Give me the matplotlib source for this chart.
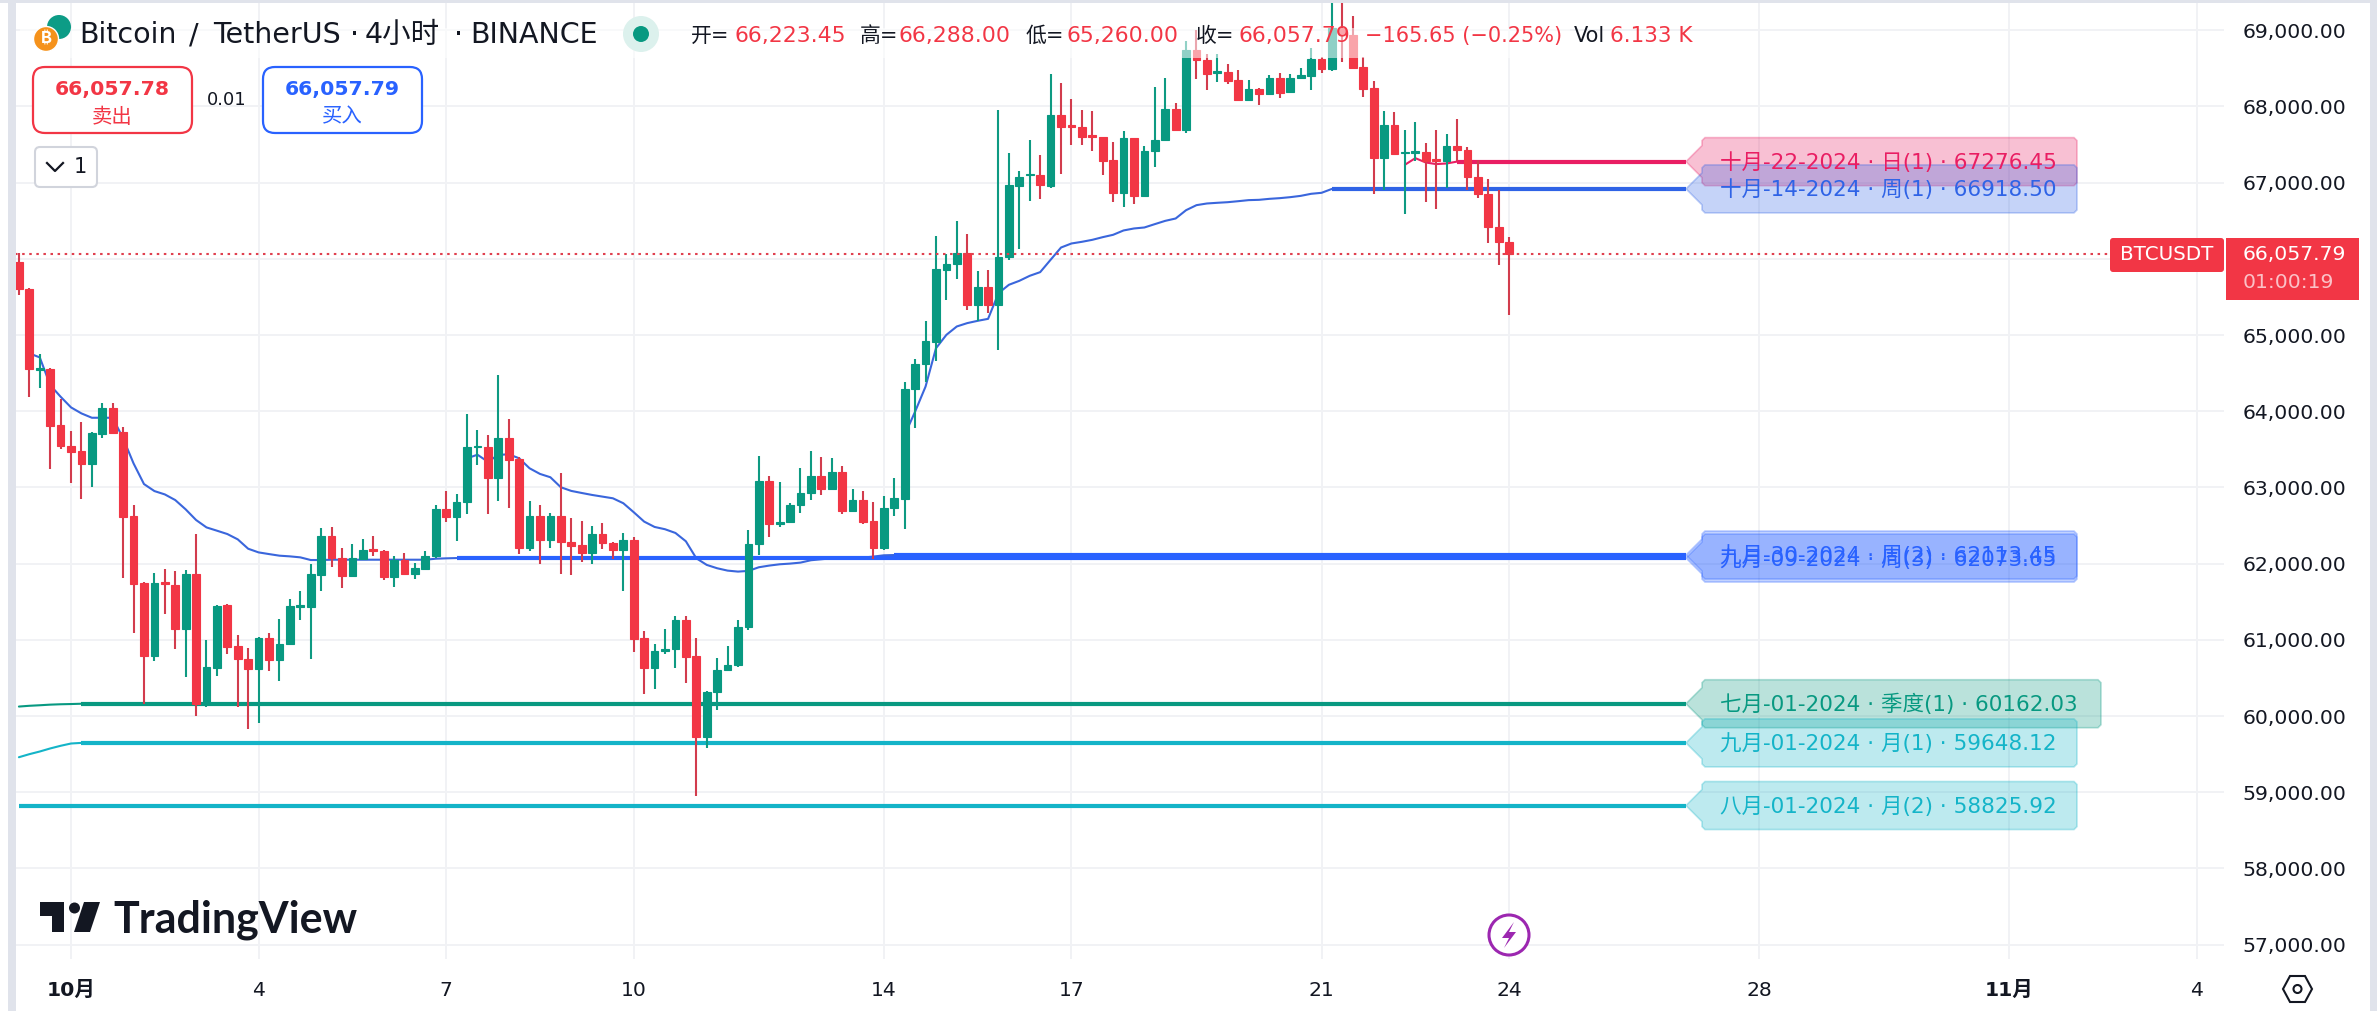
import numpy as np
import matplotlib
matplotlib.use('Agg')
import matplotlib.pyplot as plt
from matplotlib.patches import Circle, FancyBboxPatch, Polygon, Rectangle

plt.rcParams['font.family'] = ['DejaVu Sans', 'Noto Sans CJK SC']

# 4h candles, bar 0 = Oct 1 00:00
first_bar = -5
opens = [65960, 65600, 64540, 64555, 63815, 63550, 63480, 63305, 63700, 64040,
         63725, 62620, 61745, 60790, 61755, 61715, 61145, 61865, 60165, 60635,
         61455, 60915, 60755, 60620, 61020, 60740, 60940, 61435, 61435, 61855,
         62360, 62080, 61840, 62065, 62190, 62165, 61825, 62050, 61865, 61935,
         62095, 62715, 62615, 62805, 63525, 63525, 63130, 63645, 63370, 62205,
         62620, 62305, 62620, 62285, 62240, 62145, 62385, 62275, 62185, 62305,
         61020, 60625, 60850, 60885, 61260, 60785, 59720, 60310, 60600, 60665,
         61165, 62255, 63080, 62520, 62550, 62765, 62925, 63145, 62985, 63200,
         62695, 62830, 62555, 62210, 62730, 62855, 64290, 64615, 64915, 65860,
         65930, 66075, 65390, 65630, 65390, 66020, 66960, 67095, 67100, 66955,
         67885, 67755, 67730, 67625, 67595, 67295, 66860, 67585, 66830, 67410,
         67555, 67965, 67695, 68745, 68610, 68445, 68455, 68350, 68080, 68230,
         68170, 68370, 68185, 68370, 68405, 68625, 68495, 69030, 68940, 68515,
         68240, 67330, 67755, 67385, 67395, 67400, 67310, 67280, 67480, 67425,
         67070, 66850, 66415, 66223.45]
highs = [66080, 65620, 64750, 64565, 64155, 63740, 63855, 63730, 64115, 64105,
         63800, 62765, 61760, 61875, 61925, 61900, 61915, 62385, 60995, 61455,
         61465, 61060, 60890, 61040, 61085, 61270, 61530, 61635, 61990, 62465,
         62475, 62200, 62255, 62320, 62360, 62180, 62095, 62135, 62005, 62160,
         62765, 62960, 62910, 63960, 63750, 63695, 64470, 63895, 63395, 62820,
         62765, 62660, 63185, 62595, 62555, 62490, 62535, 62285, 62400, 62345,
         61115, 60945, 61140, 61310, 61310, 61020, 60325, 60760, 60915, 61255,
         62440, 63410, 63145, 63070, 62790, 63250, 63475, 63395, 63385, 63280,
         62975, 62950, 62805, 62885, 63120, 64380, 64680, 65185, 66300, 66060,
         66495, 66325, 65840, 65850, 67950, 67385, 67150, 67560, 67360, 68425,
         68305, 68095, 67950, 67940, 67600, 67530, 67675, 67590, 67480, 68255,
         68370, 68045, 68865, 69005, 68685, 68685, 68555, 68475, 68345, 68240,
         68410, 68440, 68425, 68505, 68765, 68650, 69400, 69380, 69190, 68655,
         68335, 67940, 67925, 67690, 67795, 67520, 67690, 67635, 67835, 67465,
         67295, 67045, 66900, 66288]
lows = [65525, 64190, 64310, 63245, 63510, 63060, 62850, 63010, 63655, 63700,
        61815, 61095, 60165, 60725, 61345, 60885, 60515, 60005, 60125, 60530,
        60820, 60125, 59825, 59915, 60595, 60465, 60935, 61265, 60755, 61645,
        61960, 61685, 61830, 62065, 62105, 61785, 61700, 61865, 61805, 61920,
        62070, 62550, 62300, 62655, 63300, 62655, 62825, 62735, 62130, 62160,
        62000, 62200, 61870, 61850, 62025, 62000, 62195, 62055, 61635, 60835,
        60295, 60360, 60820, 60635, 60440, 58945, 59585, 60085, 60585, 60650,
        61135, 62120, 62355, 62485, 62550, 62670, 62830, 62905, 62985, 62655,
        62695, 62525, 62055, 62185, 62620, 62460, 63780, 64380, 64665, 65465,
        65730, 65325, 65190, 65285, 64800, 65990, 66135, 66755, 66780, 66930,
        67120, 67490, 67500, 67410, 67095, 66740, 66675, 66725, 66830, 67200,
        67555, 67685, 67650, 68365, 68210, 68315, 68300, 68080, 68080, 68015,
        68170, 68105, 68185, 68370, 68210, 68435, 68470, 68590, 68500, 68130,
        66845, 66905, 67370, 66585, 67285, 66740, 66650, 66925, 67285, 66900,
        66805, 66205, 65925, 65260]
closes = [65605, 64550, 64565, 63810, 63545, 63470, 63305, 63710, 64040, 63710,
          62615, 61735, 60790, 61740, 61735, 61145, 61865, 60165, 60640, 61450,
          60910, 60755, 60620, 61020, 60740, 60940, 61440, 61455, 61860, 62360,
          62080, 61840, 62070, 62175, 62170, 61830, 62050, 61870, 61940, 62095,
          62715, 62615, 62805, 63525, 63545, 63130, 63645, 63365, 62205, 62620,
          62305, 62620, 62280, 62235, 62145, 62385, 62265, 62185, 62305, 61015,
          60625, 60850, 60885, 61260, 60780, 59720, 60315, 60600, 60665, 61165,
          62255, 63080, 62525, 62550, 62765, 62925, 63145, 62985, 63200, 62695,
          62830, 62550, 62210, 62730, 62860, 64290, 64615, 64925, 65870, 65935,
          66075, 65390, 65630, 65390, 66025, 66965, 67070, 67110, 66965, 67885,
          67735, 67735, 67605, 67605, 67290, 66860, 67585, 66830, 67415, 67560,
          67965, 67695, 68745, 68605, 68420, 68465, 68335, 68080, 68230, 68165,
          68370, 68180, 68370, 68410, 68625, 68495, 69030, 68940, 68505, 68235,
          67330, 67755, 67370, 67400, 67415, 67290, 67290, 67480, 67425, 67070,
          66845, 66415, 66220, 66057.79]

# anchored vwap lines, thin part until the pivot level is fixed
sep09_start, sep09_vwap = -4, [64760, 64707, 64344, 64191, 64051, 63972, 63915, 63915, 63915, 63644,
                               63316, 63045, 62953, 62909, 62835, 62713, 62573, 62476, 62433, 62389,
                               62319, 62196, 62148, 62126, 62105, 62096, 62083, 62048, 62048, 62052,
                               62052, 62052, 62052, 62052, 62052, 62052, 62052, 62052, 62052, 62065,
                               62070, 62073.65]
sep30_start, sep30_vwap = 38, [63382, 63430, 63338, 63427, 63436, 63383, 63252, 63178, 63134, 63003,
                               62955, 62928, 62902, 62880, 62858, 62793, 62675, 62552, 62482, 62452,
                               62403, 62294, 62071, 61984, 61940, 61909, 61896, 61905, 61953, 61975,
                               61992, 62001, 62014, 62045, 62058, 62071, 62075, 62075, 62080, 62093,
                               62110, 62113.45]
oct14_start, oct14_vwap = 80, [63690, 63996, 64324, 64827, 65003, 65113, 65157, 65187, 65213, 65550,
                               65660, 65712, 65778, 65826, 65988, 66149, 66202, 66224, 66250, 66285,
                               66316, 66373, 66399, 66412, 66456, 66499, 66530, 66639, 66705, 66727,
                               66736, 66744, 66757, 66771, 66775, 66788, 66797, 66810, 66827, 66854,
                               66867, 66918.5]
oct22_start, oct22_vwap = 128, [67235, 67322, 67265, 67244, 67252, 67276.45]
jul01_start, jul01_vwap = -5, [60125, 60135, 60142, 60150, 60155, 60158, 60162.03]
sep01_start, sep01_vwap = -5, [59460, 59500, 59535, 59575, 59610, 59640, 59648.12]
aug01_start, aug01_vwap = -5, [58825.92]

level_text = ['十月-22-2024 · 日(1) · 67276.45', '十月-14-2024 · 周(1) · 66918.50',
              '九月-30-2024 · 周(2) · 62113.45', '九月-09-2024 · 周(3) · 62073.65',
              '七月-01-2024 · 季度(1) · 60162.03', '九月-01-2024 · 月(1) · 59648.12',
              '八月-01-2024 · 月(2) · 58825.92']

price_ticks = list(range(57000, 70000, 1000))
date_ticks = [0, 18, 36, 54, 78, 96, 120, 138, 162, 186, 204]
date_labels = ['10月', '4', '7', '10', '14', '17', '21', '24', '28', '11月', '4']

RED = '#f23645'
GREEN = '#089981'
BLUE = '#2962ff'
CYAN = '#14b4c8'
PINK = '#e91e63'
GRID = '#f1f2f5'
STRIP = '#e0e3eb'
INK = '#131722'

W, H = 2377, 1011
fig = plt.figure(figsize=(W / 100, H / 100), dpi=100, facecolor='white')

# chart pane spans x 16..2224, y 3..959 in picture pixels
ax = fig.add_axes([16 / W, (H - 959) / H, (2224 - 16) / W, (959 - 3) / H])
ax.set_xlim(-5.28, 206.6)
ax.set_ylim(56812, 69358)
ax.set_facecolor('white')
for s in ax.spines.values():
    s.set_visible(False)
ax.yaxis.tick_right()
ax.set_yticks(price_ticks)
ax.set_yticklabels(['{:,.2f}'.format(p) for p in price_ticks])
ax.set_xticks(date_ticks)
ax.set_xticklabels(date_labels)
ax.tick_params(axis='y', length=0, pad=13.5, labelsize=14.7, labelcolor=INK)
ax.tick_params(axis='x', length=0, pad=15.5, labelsize=14.7, labelcolor=INK)
for lab in ax.get_xticklabels():
    if '月' in lab.get_text():
        lab.set_fontweight('bold')
ax.grid(True, color=GRID, lw=1.4, zorder=0)
ax.set_axisbelow(True)

# pivot levels: (start bar, values, thick colour, thin colour)
x_tip = 155
levels = [(oct22_start, oct22_vwap, PINK, PINK), (oct14_start, oct14_vwap, '#2f63e6', '#3a66dc'),
          (sep30_start, sep30_vwap, BLUE, '#3a66dc'), (sep09_start, sep09_vwap, BLUE, '#3a66dc'),
          (jul01_start, jul01_vwap, GREEN, GREEN), (sep01_start, sep01_vwap, CYAN, CYAN),
          (aug01_start, aug01_vwap, CYAN, CYAN)]
for start, vals, col, thin in levels:
    xs = np.arange(start, start + len(vals))
    if len(vals) > 1:
        ax.plot(xs, vals, color=thin, lw=1.5, zorder=2, solid_capstyle='round')
    ax.plot([xs[-1], x_tip], [vals[-1], vals[-1]], color=col, lw=3.0, zorder=2,
            solid_capstyle='butt')

# candles
bars = np.arange(first_bar, first_bar + len(opens))
o = np.array(opens, dtype=float)
c = np.array(closes, dtype=float)
colors = [GREEN if b >= a else RED for a, b in zip(o, c)]
wick_colors = ['#0e9a82' if b >= a else '#d23c4d' for a, b in zip(o, c)]
ax.vlines(bars, lows, highs, colors=wick_colors, lw=1.5, zorder=3)
ax.bar(bars, np.abs(c - o), bottom=np.minimum(o, c), width=0.74, color=colors,
       edgecolor=colors, lw=0.8, zorder=4)

# last price line
ax.plot([first_bar - 1, (2110 - 71) / 10.42], [closes[-1], closes[-1]], color='#e0404f',
        lw=1.5, ls=(0, (1.2, 2.2)), zorder=5)

# everything fixed to the screen goes on a pixel overlay
ui = fig.add_axes([0, 0, 1, 1], zorder=10)
ui.set_xlim(0, W)
ui.set_ylim(H, 0)
ui.axis('off')
ui.patch.set_alpha(0)


def py(price):
    return H - ax.transData.transform((0, price))[1]


ui.add_patch(Rectangle((8, 0), 8, H, color=STRIP, lw=0))
ui.add_patch(Rectangle((2370, 0), 7, H, color=STRIP, lw=0))
ui.add_patch(Rectangle((0, 0), W, 3, color=STRIP, lw=0))

# pale band behind the header text
ui.add_patch(Rectangle((20, 28), 1550, 30, color='white', alpha=0.55, lw=0))

# level tags
for (start, vals, col, thin), txt in zip(levels, level_text):
    y = py(vals[-1])
    right = 2101 if '季度' in txt else 2077
    pts = [(1686, y), (1702, y - 16), (1702, y - 21), (1705, y - 24), (right - 3, y - 24),
           (right, y - 21), (right, y + 21), (right - 3, y + 24), (1705, y + 24),
           (1702, y + 21), (1702, y + 16)]
    ui.add_patch(Polygon(pts, closed=True, facecolor=col, edgecolor='none', alpha=0.28))
    ui.add_patch(Polygon(pts, closed=True, facecolor='none', edgecolor=col, alpha=0.3, lw=1.2))
    ui.text(1720, y + 1, txt, color=col, fontsize=15.5, ha='left', va='center')

# price tags
ui.add_patch(FancyBboxPatch((2112, 240), 110, 30, boxstyle='round,pad=2,rounding_size=3',
                            facecolor=RED, edgecolor='none'))
ui.text(2167, 255, 'BTCUSDT', color='white', fontsize=14.3, ha='center', va='center')
ui.add_patch(Rectangle((2226, 238), 133, 62, color=RED, lw=0))
ui.text(2243, 255, '66,057.79', color='white', fontsize=14.7, ha='left', va='center')
ui.text(2243, 282, '01:00:19', color='#fbc1c7', fontsize=14.7, ha='left', va='center')

# header
ui.add_patch(Circle((59, 27), 12, color='#0d9c86', lw=0))
ui.add_patch(Circle((46, 39), 12.5, color='#f5921b', ec='white', lw=1))
ui.text(46, 39, '₿', color='white', fontsize=12, ha='center', va='center', fontweight='bold',
        family=['Inter', 'Noto Sans', 'Roboto', 'Open Sans', 'DejaVu Sans'])
title_parts = [('Bitcoin', 79), ('/', 189), ('TetherUS', 213), ('·', 350), ('4小时', 365),
               ('·', 454), ('BINANCE', 470)]
for txt, x in title_parts:
    ui.text(x, 35, txt, color=INK, fontsize=20.5, ha='left', va='center')
ui.add_patch(Circle((641, 34), 18, color='#dcf1ed', lw=0))
ui.add_patch(Circle((641, 34), 8, color=GREEN, lw=0))

ohlc_labels = [('开=', 691), ('高=', 860), ('低=', 1026), ('收=', 1196)]
ohlc_values = [('66,223.45', 734), ('66,288.00', 899), ('65,260.00', 1066), ('66,057.79', 1238)]
for txt, x in ohlc_labels:
    ui.text(x, 36, txt, color=INK, fontsize=15, ha='left', va='center')
for txt, x in ohlc_values:
    ui.text(x, 36, txt, color=RED, fontsize=15.8, ha='left', va='center')
ui.text(1365, 36, '−165.65 (−0.25%)', color=RED, fontsize=15, ha='left', va='center')
ui.text(1574, 36, 'Vol', color=INK, fontsize=15, ha='left', va='center')
ui.text(1610, 36, '6.133 K', color=RED, fontsize=15.5, ha='left', va='center')

# buy / sell buttons
for x0, col, price, word in [(33, RED, '66,057.78', '卖出'), (263, BLUE, '66,057.79', '买入')]:
    ui.add_patch(FancyBboxPatch((x0 + 10, 77), 139, 46, boxstyle='round,pad=10,rounding_size=12',
                                facecolor='white', edgecolor=col, lw=1.6))
    ui.text(x0 + 79.5, 89, price, color=col, fontsize=14.7, ha='center', va='center', fontweight='bold')
    ui.text(x0 + 79.5, 117, word, color=col, fontsize=14.7, ha='center', va='center')
ui.text(226.5, 100, '0.01', color=INK, fontsize=13, ha='center', va='center')

ui.add_patch(FancyBboxPatch((40, 152), 52, 30, boxstyle='round,pad=5,rounding_size=5',
                            facecolor='white', edgecolor='#d1d4dc', lw=1.5))
ui.plot([47, 55, 63], [163, 171, 163], color=INK, lw=1.6)
ui.text(80.5, 167, '1', color=INK, fontsize=15, ha='center', va='center')

# TradingView mark
ui.add_patch(Polygon([(40, 902), (64, 902), (64, 932), (52, 932), (52, 916), (40, 916)], color=INK, lw=0))
ui.add_patch(Circle((74.5, 908), 5.5, color=INK, lw=0))
ui.add_patch(Polygon([(84, 902), (100, 902), (90, 932), (74, 932)], color=INK, lw=0))
ui.text(113, 920, 'TradingView', color=INK, fontsize=31, family=['Lato'], fontweight='bold',
        ha='left', va='center')

# lightning badge and settings hexagon
ui.add_patch(Circle((1509, 935), 20, facecolor='white', edgecolor='#9c27b0', lw=2.2))
ui.add_patch(Polygon([(1514, 922), (1502, 938), (1509, 938), (1504, 948), (1516, 932), (1509, 932)],
                     color='#9c27b0', lw=0))
ui.add_patch(Polygon([(2283, 989), (2290, 976), (2305, 976), (2312, 989), (2305, 1002), (2290, 1002)],
                     closed=True, facecolor='none', edgecolor=INK, lw=1.5))
ui.add_patch(Circle((2297.5, 989), 4, facecolor='none', edgecolor=INK, lw=1.5))

fig.savefig('out.png', dpi=100)
